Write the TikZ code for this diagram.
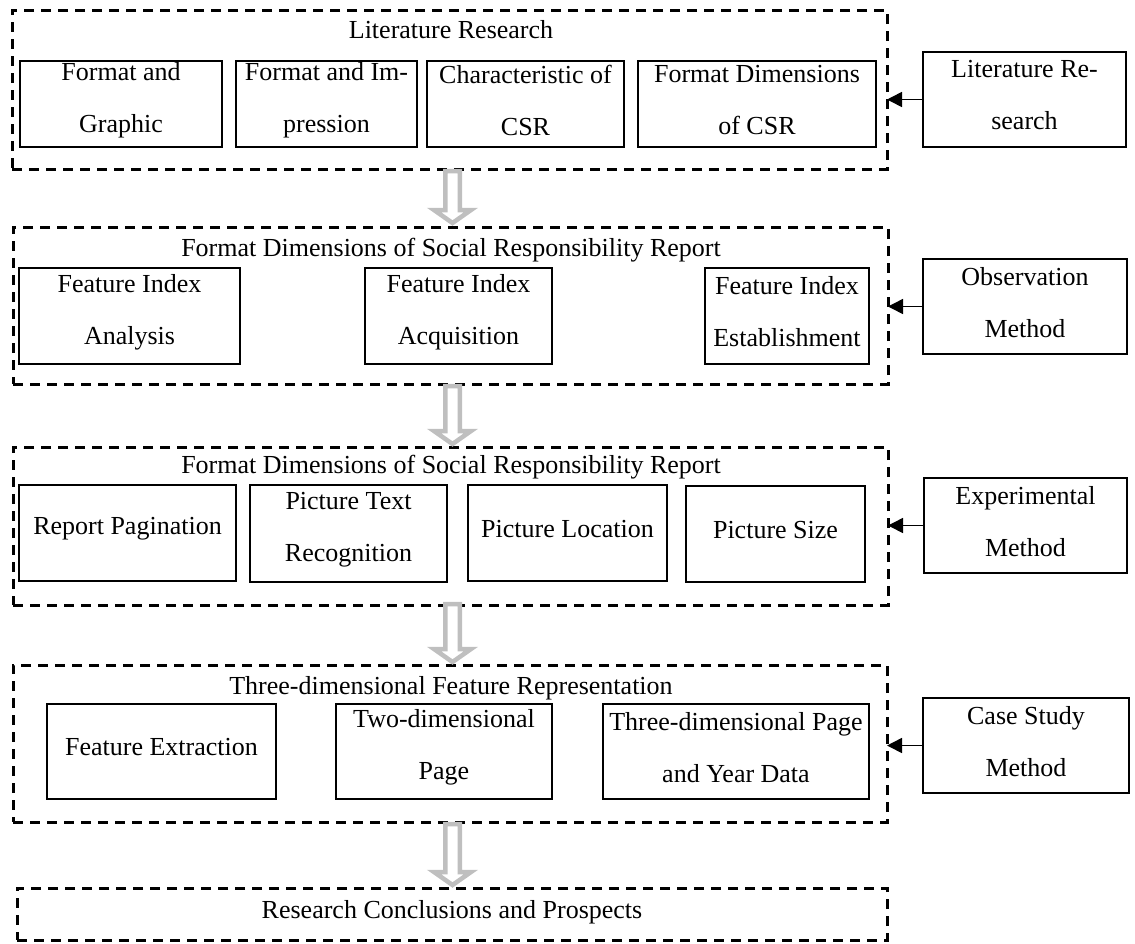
\documentclass[tikz,border=0pt]{standalone}
\usepackage{fontspec}
\setmainfont{Liberation Serif}
\usetikzlibrary{arrows.meta,calc}
\tikzset{
  ibox/.style={draw, line width=1.3pt, inner sep=0pt, outer sep=0pt},
  dbox/.style={draw, line width=3pt, dash pattern=on 10pt off 7pt, inner sep=0pt, outer sep=0pt},
  txt/.style={align=center, inner sep=0pt, font=\fontsize{26}{52}\selectfont},
  garrow/.style={draw=black!25, line width=4.5pt, fill=white, line join=miter},
  conn/.style={line width=1.6pt, -{Triangle[length=15pt,width=15pt]}},
}
\newcommand\mkbox[6]{%
  \node[ibox, minimum width={#4-#2}, minimum height={#5-#3}] (#1) at ({(#2+#4)/2},{(#3+#5)/2}) {};
  \node[txt] (#1t) at ([yshift=4pt]#1.center) {#6};}
\newcommand\mkdash[5]{%
  \node[dbox, minimum width={#4-#2}, minimum height={#5-#3}] (#1) at ({(#2+#4)/2},{(#3+#5)/2}) {};}
\newcommand\mkgarrow[3]{% name, top y, tip y
  \coordinate (#1s) at (452.5,#2);
  \coordinate (#1e) at (452.5,#3);
  \draw[garrow] ($(#1s)+(-7.25,0)$) -- ($(#1e)+(-7.25,-16)$) -- ($(#1e)+(-18.5,-16)$)
     -- ($(#1e)+(0,-3)$) -- ($(#1e)+(18.5,-16)$) -- ($(#1e)+(7.25,-16)$) -- ($(#1s)+(7.25,0)$) -- cycle;}
\begin{document}
\begin{tikzpicture}[x=1pt,y=-1pt]
\useasboundingbox (0,0) rectangle (1135,943);

% dashed containers
\mkdash{d1}{12}{10}{887}{169}
\mkdash{d2}{13}{227}{888}{384}
\mkdash{d3}{13}{447}{888}{605}
\mkdash{d4}{13}{665}{887}{822}
\mkdash{d5}{17}{888}{887}{940}

% titles
\node[txt] (t1) at (451,30) {Literature Research};
\node[txt] (t2) at (451,250) {Format Dimensions of Social Responsibility Report};
\node[txt] (t3) at (451,467) {Format Dimensions of Social Responsibility Report};
\node[txt] (t4) at (451,688) {Three-dimensional Feature Representation};
\node[txt] (t5) at (452,912) {Research Conclusions and Prospects};

% row 1
\mkbox{a1}{20}{61}{222}{147}{Format and\\Graphic}
\mkbox{b1}{236}{61}{417}{147}{Format and Im-\\pression}
\mkbox{c1}{427}{61}{624}{147}{Characteristic of\\CSR}
\mkbox{e1}{638}{61}{876}{147}{Format Dimensions\\of CSR}
\mkbox{r1}{923}{52}{1126}{147}{Literature Re-\\search}

% row 2
\mkbox{a2}{19}{268}{240}{364}{Feature Index\\Analysis}
\mkbox{b2}{365}{268}{552}{364}{Feature Index\\Acquisition}
\mkbox{c2}{705}{268}{869}{364}{Feature Index\\Establishment}
\mkbox{r2}{923}{259}{1127}{354}{Observation\\Method}

% row 3
\mkbox{a3}{19}{485}{236}{581}{Report Pagination}
\mkbox{b3}{250}{485}{447}{582}{Picture Text\\Recognition}
\mkbox{c3}{468}{485}{667}{581}{Picture Location}
\mkbox{e3}{686}{486}{865}{582}{Picture Size}
\mkbox{r3}{924}{478}{1127}{573}{Experimental\\Method}

% row 4
\mkbox{a4}{47}{704}{276}{799}{Feature Extraction}
\mkbox{b4}{336}{704}{552}{799}{Two-dimensional\\Page}
\mkbox{c4}{603}{704}{869}{799}{Three-dimensional Page\\and Year Data}
\mkbox{r4}{923}{698}{1129}{793}{Case Study\\Method}

% method arrows
\draw[conn] (r1.west) -- (r1.west -| d1.east);
\draw[conn] (r2.west) -- (r2.west -| d2.east);
\draw[conn] (r3.west) -- (r3.west -| d3.east);
\draw[conn] (r4.west) -- (r4.west -| d4.east);

% grey flow arrows
\mkgarrow{g1}{171}{226}
\mkgarrow{g2}{386}{447}
\mkgarrow{g3}{604}{665}
\mkgarrow{g4}{824}{888}
\end{tikzpicture}
\end{document}
